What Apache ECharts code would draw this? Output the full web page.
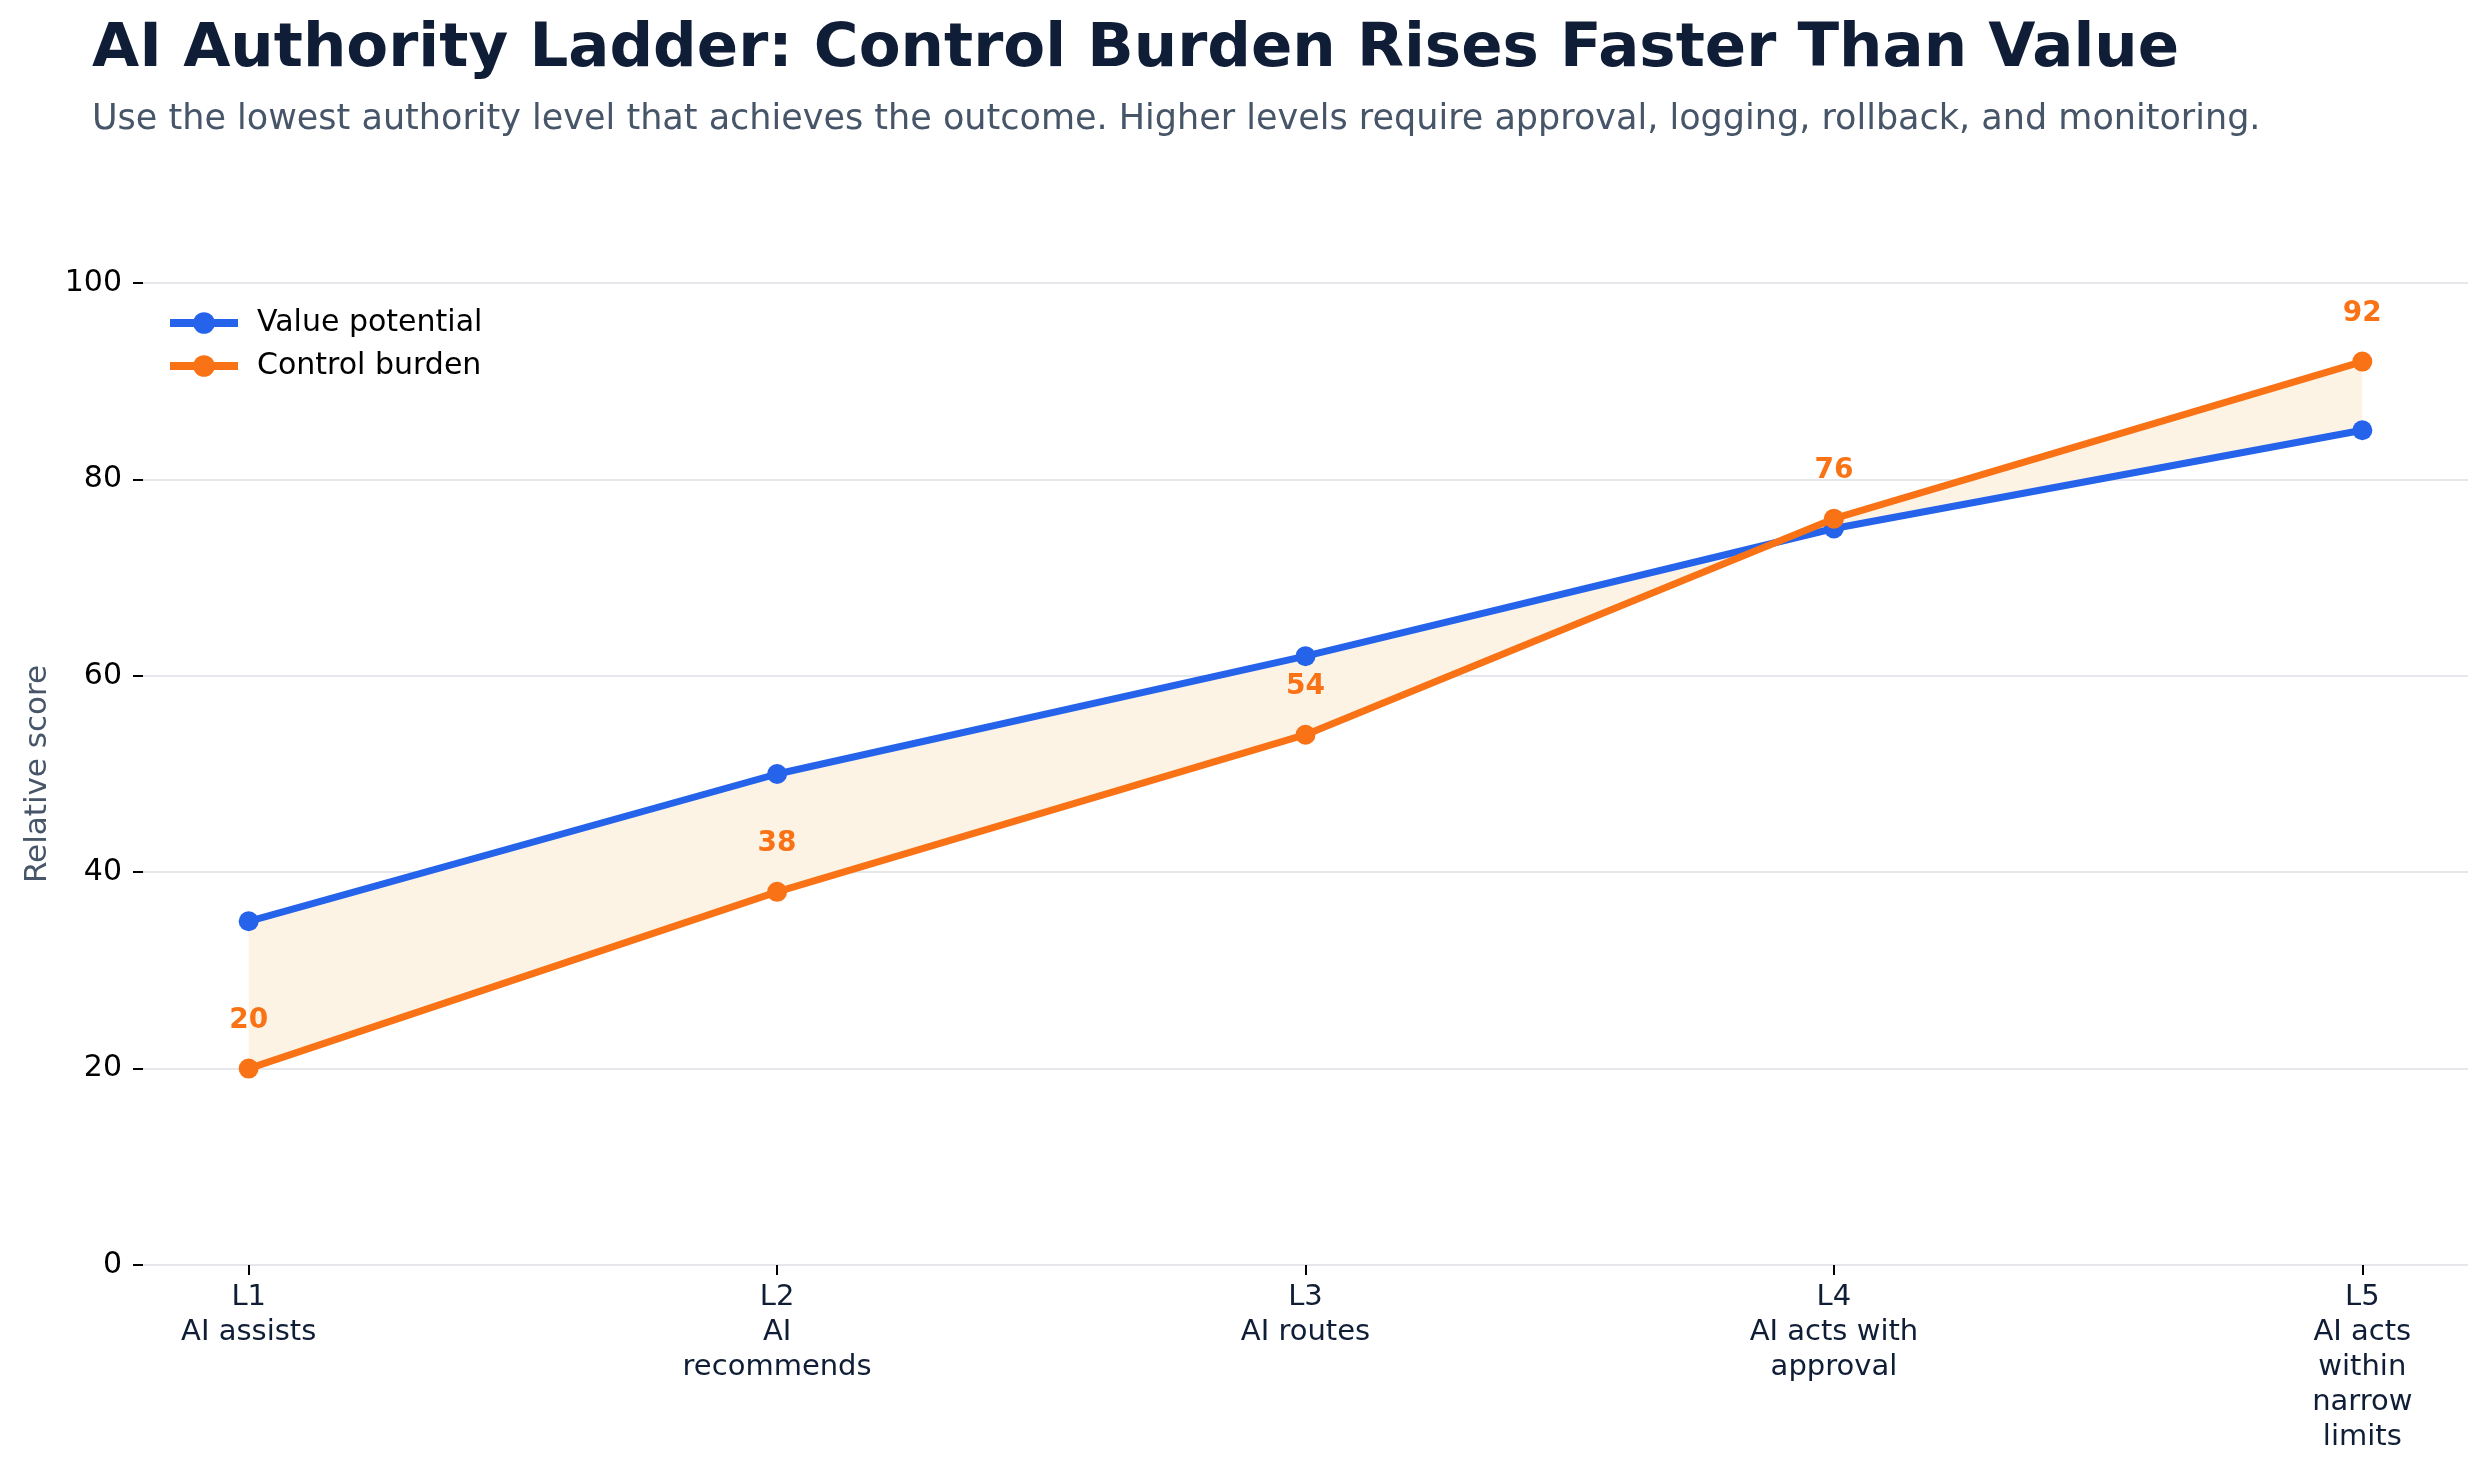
<!DOCTYPE html>
<html>
<head>
<meta charset="utf-8">
<script src="https://cdn.jsdelivr.net/npm/echarts@6/dist/echarts.min.js"></script>
<style>
  html, body { margin: 0; padding: 0; background: #fff; }
  #chart { width: 2489px; height: 1466px; }
</style>
</head>
<body>
<div id="chart"></div>
<script>
// authority levels and the two scores
var levels = ['L1', 'L2', 'L3', 'L4', 'L5'];
var levelNames = ['AI assists', 'AI\nrecommends', 'AI routes', 'AI acts with\napproval', 'AI acts\nwithin\nnarrow\nlimits'];
var valuePotential = [35, 50, 62, 75, 85];
var controlBurden = [20, 38, 54, 76, 92];

var blue = '#2563eb';
var orange = '#f97316';
var navy = '#0f1e36';
var slate = '#475569';
var font = 'DejaVu Sans';

var idx = levels.map(function (_, i) { return i; });

var myChart = echarts.init(document.getElementById('chart'));

var option = {
  animation: false,
  backgroundColor: '#fff',
  textStyle: { fontFamily: font },
  title: {
    text: 'AI Authority Ladder: Control Burden Rises Faster Than Value',
    subtext: 'Use the lowest authority level that achieves the outcome. Higher levels require approval, logging, rollback, and monitoring.',
    left: 92,
    top: 20,
    padding: 0,
    itemGap: 21,
    textStyle: { fontFamily: font, fontSize: 61, fontWeight: 'bold', color: navy },
    subtextStyle: { fontFamily: font, fontSize: 35, color: slate }
  },
  legend: {
    data: ['Value potential', 'Control burden'],
    orient: 'vertical',
    left: 166,
    top: 308,
    padding: 0,
    itemWidth: 68,
    itemHeight: 27,
    itemGap: 13,
    lineStyle: { width: 8 },
    textStyle: { fontFamily: font, fontSize: 30, color: '#000', lineHeight: 30, padding: [0, 0, 0, 14] }
  },
  grid: { left: 143, right: 21, top: 283, bottom: 201, containLabel: false },
  xAxis: {
    type: 'value',
    min: -0.2,
    max: 4.2,
    axisLine: { show: false, onZero: false },
    splitLine: { show: false },
    axisTick: { show: true, customValues: idx, length: 10, lineStyle: { color: '#000', width: 2 } },
    axisLabel: {
      customValues: idx,
      margin: 15,
      fontFamily: font,
      fontSize: 29,
      lineHeight: 35,
      color: navy,
      verticalAlign: 'top',
      formatter: function (v) { return levels[v] + '\n' + levelNames[v]; }
    }
  },
  yAxis: {
    type: 'value',
    min: 0,
    max: 100,
    interval: 20,
    name: 'Relative score',
    nameLocation: 'middle',
    nameGap: 90,
    nameRotate: 90,
    nameTextStyle: { fontFamily: font, fontSize: 31, color: slate },
    axisLine: { show: false, onZero: false },
    axisTick: { show: true, length: 10, lineStyle: { color: '#000', width: 2 } },
    axisLabel: { margin: 21, fontFamily: font, fontSize: 30, color: '#000' },
    splitLine: { show: true, lineStyle: { color: '#e5e7eb', width: 2 } }
  },
  series: [
    {
      name: 'gap',
      type: 'custom',
      z: 1,
      silent: true,
      data: [0],
      renderItem: function (params, api) {
        var pts = [];
        for (var i = 0; i < idx.length; i++) pts.push(api.coord([idx[i], valuePotential[i]]));
        for (var j = idx.length - 1; j >= 0; j--) pts.push(api.coord([idx[j], controlBurden[j]]));
        return { type: 'polygon', shape: { points: pts }, style: { fill: '#fdf3e4', stroke: null } };
      }
    },
    {
      name: 'Value potential',
      type: 'line',
      z: 3,
      data: idx.map(function (i) { return [i, valuePotential[i]]; }),
      symbol: 'circle',
      symbolSize: 20,
      color: blue,
      lineStyle: { width: 7, color: blue },
      itemStyle: { color: blue }
    },
    {
      name: 'Control burden',
      type: 'line',
      z: 4,
      data: idx.map(function (i) { return [i, controlBurden[i]]; }),
      symbol: 'circle',
      symbolSize: 20,
      color: orange,
      lineStyle: { width: 7, color: orange },
      itemStyle: { color: orange },
      label: {
        show: true,
        position: 'top',
        distance: 24,
        fontFamily: font,
        fontSize: 28,
        fontWeight: 'bold',
        color: orange,
        formatter: function (p) { return p.value[1]; }
      }
    }
  ]
};

myChart.setOption(option);
window.addEventListener('resize', function () {
  myChart.resize();
});
</script>
</body>
</html>
